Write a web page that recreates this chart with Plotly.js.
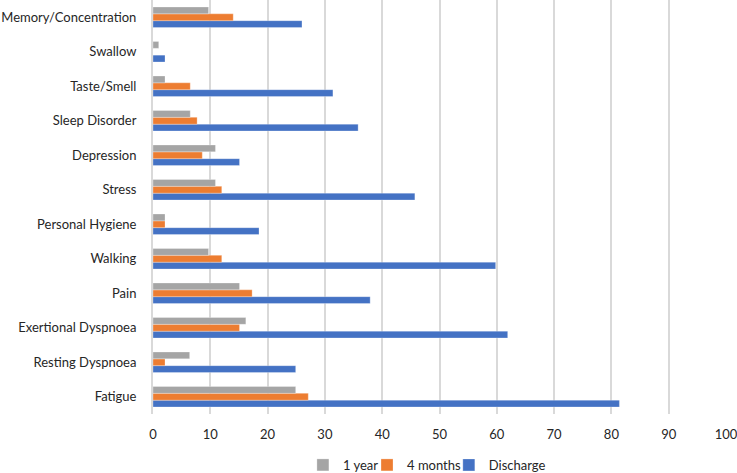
<!DOCTYPE html>
<html><head><meta charset="utf-8">
<script src="https://cdn.plot.ly/plotly-3.0.1.min.js"></script>
<style>html,body{margin:0;padding:0;background:#fff}#c{width:737px;height:473px}</style>
</head><body><div id="c"></div>
<script>
const categories = ["Fatigue","Resting Dyspnoea","Exertional Dyspnoea","Pain","Walking","Personal Hygiene","Stress","Depression","Sleep Disorder","Taste/Smell","Swallow","Memory/Concentration"];
const discharge = [81.4, 24.9, 61.9, 37.9, 59.8, 18.5, 45.7, 15.1, 35.8, 31.4, 2.1, 26.0];
const fourMonths = [27.1, 2.1, 15.1, 17.3, 12.0, 2.1, 12.0, 8.6, 7.7, 6.5, 0, 14.0];
const oneYear = [24.9, 6.4, 16.2, 15.1, 9.7, 2.1, 10.9, 10.9, 6.5, 2.1, 1.0, 9.7];
const xTicks = [0,10,20,30,40,50,60,70,80,90,100];

function tr(name, vals, color, lg){
  return {type:'bar', orientation:'h', name:name, y:categories, x:vals, legend:lg,
    marker:{color:color, line:{color:'rgba(255,255,255,0.35)', width:0.8}}, hoverinfo:'skip'};
}
const data = [
  tr('Discharge', discharge, '#4472C4', 'legend3'),
  tr('4 months', fourMonths, '#ED7D31', 'legend2'),
  tr('1 year', oneYear, '#A5A5A5', 'legend')
];
function lg(x){
  return {orientation:'h', xref:'container', yref:'container', x:x, xanchor:'left', y:0.017, yanchor:'middle',
    font:{size:13}, itemwidth:30, bgcolor:'rgba(0,0,0,0)'};
}
const layout = {
  width:737, height:473,
  margin:{l:153, r:11, t:0, b:59},
  barmode:'group', bargap:0.405, bargroupgap:0,
  font:{family:'Lato, "Open Sans", sans-serif', size:13, color:'#262626'},
  paper_bgcolor:'#fff', plot_bgcolor:'#fff',
  xaxis:{range:[0,100], tickvals:xTicks, ticktext:xTicks.map(String), showgrid:true, gridcolor:'#d9d9d9', gridwidth:2,
    zeroline:false, showline:false, ticks:'', ticklabelstandoff:11, ticklabeloverflow:'allow', tickfont:{size:13}},
  yaxis:{type:'category', showgrid:false, zeroline:false, showline:true, linecolor:'#d9d9d9', linewidth:2,
    ticks:'', ticklabelstandoff:12, tickfont:{size:13}, automargin:false},
  showlegend:true,
  legend:lg(0.411), legend2:lg(0.498), legend3:lg(0.609)
};
Plotly.newPlot('c', data, layout, {staticPlot:true, displayModeBar:false});
</script>
</body></html>
